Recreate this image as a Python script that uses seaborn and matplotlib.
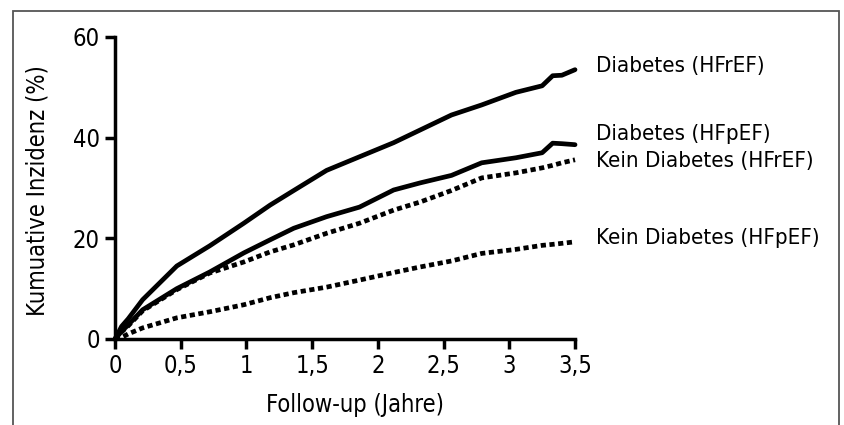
import matplotlib
matplotlib.use("Agg")
import matplotlib.pyplot as plt
import matplotlib.patches as patches
import pandas as pd
import seaborn as sns

# ── Daten ───────────────────────────────────────────────────
jahre = [0, 0.05, 0.1, 0.21, 0.47, 0.72, 0.98, 1.18, 1.36, 1.61, 1.86,
         2.12, 2.32, 2.56, 2.79, 3.05, 3.25, 3.33, 3.4, 3.5]

diab_hfref = [0, 2.5, 4.0, 7.8, 14.5, 18.5, 23.0, 26.6, 29.5, 33.5, 36.2,
              39.0, 41.5, 44.5, 46.5, 49.0, 50.3, 52.3, 52.4, 53.5]
diab_hfpef = [0, 1.5, 2.8, 5.8, 10.0, 13.3, 17.1, 19.7, 22.0, 24.3, 26.2,
              29.6, 31.0, 32.5, 35.0, 36.0, 37.0, 38.9, 38.8, 38.6]
kein_hfref = [0, 1.4, 2.6, 5.6, 9.8, 13.1, 15.3, 17.3, 18.7, 21.0, 23.0,
              25.6, 27.2, 29.5, 32.0, 33.0, 34.0, 34.5, 35.0, 35.6]
kein_hfpef = [0, 0.3, 1.0, 2.2, 4.2, 5.4, 6.8, 8.2, 9.2, 10.3, 11.7,
              13.2, 14.3, 15.5, 17.0, 17.8, 18.6, 18.8, 19.0, 19.3]

namen = ["Diabetes (HFrEF)", "Diabetes (HFpEF)",
         "Kein Diabetes (HFrEF)", "Kein Diabetes (HFpEF)"]
werte = [diab_hfref, diab_hfpef, kein_hfref, kein_hfpef]
gestrichelt = [False, False, True, True]

x_ticks = [0, 0.5, 1, 1.5, 2, 2.5, 3, 3.5]
x_labels = ["0", "0,5", "1", "1,5", "2", "2,5", "3", "3,5"]
y_ticks = [0, 20, 40, 60]

# Beschriftungen rechts (y-Position in Datenwerten)
label_y = [54.3, 40.7, 35.3, 20.0]

sns.set_style("ticks")
plt.rcParams["font.family"] = ["DejaVu Sans"]
plt.rcParams["font.stretch"] = "condensed"
plt.rcParams["text.color"] = "black"

fig = plt.figure(figsize=(8.44, 4.25), dpi=100)
ax = fig.add_axes([0.1363, 0.2024, 0.545, 0.7106])

for name, y, dash in zip(namen, werte, gestrichelt):
    df = pd.DataFrame({"jahre": jahre, "wert": y})
    sns.lineplot(data=df, x="jahre", y="wert", ax=ax, color="black",
                 linewidth=3.4, estimator=None, sort=False)
    l = ax.lines[-1]
    l.set_clip_on(False)
    if dash:
        l.set_dashes((1.1, 0.75))
        l.set_dash_capstyle("butt")

for name, yl in zip(namen, label_y):
    ax.text(3.66, yl, name, fontsize=16, va="center", ha="left",
            color="black")

ax.set_xlim(0, 3.5)
ax.set_ylim(0, 60)
ax.set_xticks(x_ticks)
ax.set_xticklabels(x_labels)
ax.set_yticks(y_ticks)
ax.tick_params(axis="both", labelsize=17, width=2.5, length=7, direction="out",
               color="black", labelcolor="black", pad=4)
ax.set_xlabel("Follow-up (Jahre)", fontsize=17, color="black")
ax.set_ylabel("Kumuative Inzidenz (%)", fontsize=17, color="black")
ax.xaxis.set_label_coords(0.522, -0.18)
ax.yaxis.set_label_coords(-0.142, 0.49)
for side in ["left", "bottom"]:
    ax.spines[side].set_linewidth(2.5)
    ax.spines[side].set_color("black")
sns.despine(ax=ax)

# Rahmen um die Abbildung
rahmen = patches.Rectangle((13 / 844, -0.1), 826 / 844, 1.1 - 11 / 425,
                           transform=fig.transFigure, fill=False,
                           edgecolor="#555555", linewidth=1.3)
fig.patches.append(rahmen)

fig.savefig("out.png", dpi=100)
